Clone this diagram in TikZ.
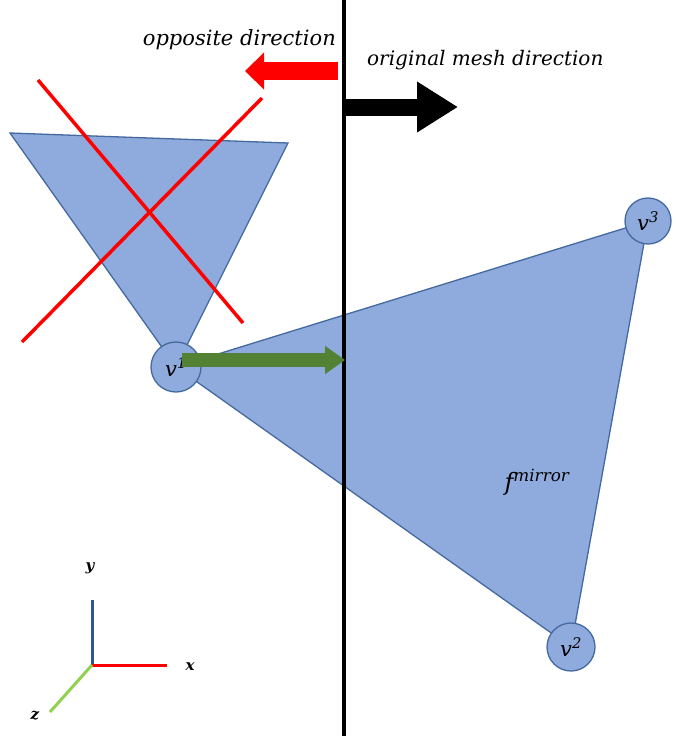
\documentclass[tikz,border=0pt]{standalone}
\usepackage{amsmath,amssymb}
\usepackage{fontspec}
\usepackage{xcolor}
\usepackage{tikz}
\usetikzlibrary{arrows.meta,positioning,backgrounds}
\newfontfamily\labelfont{DejaVu Serif}
\definecolor{meshfill}{RGB}{143,170,220}
\definecolor{meshedge}{RGB}{68,105,160}
\definecolor{dirgreen}{RGB}{84,130,53}
\definecolor{axisblue}{RGB}{47,85,151}
\definecolor{axisgreen}{RGB}{146,208,80}
\newcommand{\vlabel}[1]{v\textsuperscript{#1}}

\begin{document}
\begin{tikzpicture}[
  x=1pt,y=-1pt,
  face/.style={fill=meshfill,draw=meshedge,line width=1.3pt,line join=miter},
  vert/.style={circle,fill=meshfill,draw=meshedge,line width=1.3pt,inner sep=0pt,
    font=\labelfont\itshape\fontsize{21}{24}\selectfont},
  lbl/.style={font=\labelfont\itshape\fontsize{21}{24}\selectfont},
  cross/.style={red,line width=3.5pt},
  axis/.style={line width=3pt},
  axlbl/.style={font=\labelfont\itshape\bfseries\fontsize{15}{17}\selectfont}
]
\useasboundingbox (0,0) rectangle (676,736);

\node[vert,minimum size=50pt] (v1) at (176,367) {\vlabel{1}};
\node[vert,minimum size=46pt] (v3) at (648,221) {\vlabel{3}};
\node[vert,minimum size=48pt] (v2) at (571,647) {\vlabel{2}};
\coordinate (ta) at (10,133);
\coordinate (tb) at (288,143);

\begin{scope}[on background layer]
\filldraw[face] (ta) -- (tb) -- (v1.center) -- cycle;
\filldraw[face] (v1.center) -- (v3.center) -- (v2.center) -- cycle;
\end{scope}

\coordinate (c1a) at (38,80);
\coordinate (c1b) at (243,323);
\coordinate (c2a) at (262,98);
\coordinate (c2b) at (22,342);
\draw[cross] (c1a) -- (c1b);
\draw[cross] (c2a) -- (c2b);

\coordinate (top) at (344,0);
\coordinate (bot) at (344,736);
\draw[line width=4pt] (top) -- (bot);

\coordinate (gsta) at (182,360);
\coordinate (gend) at (345,360);
\draw[dirgreen,line width=14pt,-{Triangle[length=20pt,width=27pt]}] (gsta) -- (gend);

\coordinate (rs) at (338,71);
\coordinate (re) at (245,71);
\draw[red,line width=18pt,-{Triangle[length=19pt,width=36pt]}] (rs) -- (re);
\coordinate (bs) at (342,107);
\coordinate (be) at (458,107);
\draw[black,line width=17pt,-{Triangle[length=41pt,width=48pt]}] (bs) -- (be);

\node[lbl,anchor=east,inner sep=0pt] (opp) at (336,40) {opposite direction};
\node[lbl,anchor=west,inner sep=0pt,font=\labelfont\itshape\fontsize{20}{24}\selectfont] (orig) at (367,60) {original mesh direction};
\node[lbl,font=\labelfont\itshape\fontsize{24}{26}\selectfont] (fm) at (537,482) {f\textsuperscript{mirror}};

\coordinate (o) at (92,665);
\coordinate (ay) at (92,600);
\coordinate (ax) at (167,665);
\coordinate (az) at (50,712);
\draw[axis,axisblue] (o) -- (ay);
\draw[axis,red] (o) -- (ax);
\draw[axis,axisgreen] (o) -- (az);
\node[axlbl] (ly) at (90,568) {y};
\node[axlbl] (lx) at (190,667) {x};
\node[axlbl] (lz) at (35,716) {z};
\end{tikzpicture}
\end{document}
